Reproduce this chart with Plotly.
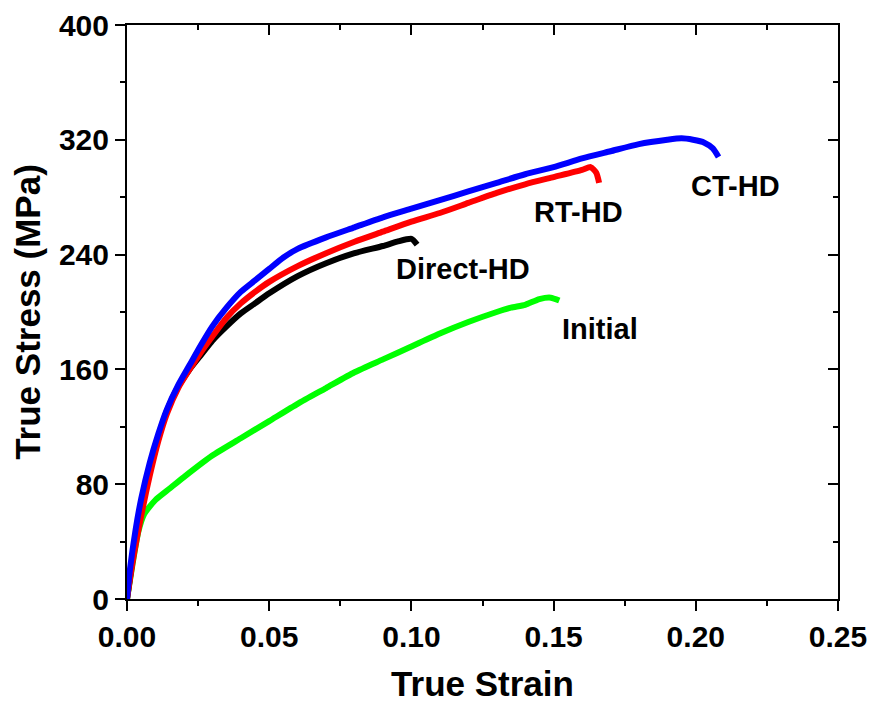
import plotly.graph_objects as go

# ---- data ----
ct_x = [0, 0.001, 0.003, 0.005, 0.008, 0.011, 0.014, 0.018, 0.022, 0.026, 0.03, 0.035, 0.04, 0.045,
        0.05, 0.055, 0.06, 0.07, 0.08, 0.09, 0.10, 0.11, 0.12, 0.13, 0.14, 0.15, 0.16, 0.17, 0.18,
        0.19, 0.195, 0.199, 0.203, 0.206, 0.208]
ct_y = [0, 20, 48, 70, 95, 115, 132, 149, 163, 177, 190, 203, 214, 222, 230, 238, 244, 252, 259,
        266, 272, 278, 284, 290, 296, 301, 307, 312, 317, 320, 321, 320, 318, 314, 308]

rt_x = [0, 0.002, 0.005, 0.008, 0.011, 0.014, 0.018, 0.022, 0.026, 0.03, 0.035, 0.04, 0.045, 0.05,
        0.06, 0.07, 0.08, 0.09, 0.10, 0.11, 0.12, 0.13, 0.14, 0.15, 0.16, 0.163, 0.165, 0.166]
rt_y = [0, 26, 58, 86, 110, 129, 147, 160, 172, 183, 196, 206, 214, 221, 232, 241, 249, 256, 263,
        269, 276, 283, 289, 294, 299, 301, 297, 290]

direct_x = [0, 0.002, 0.005, 0.008, 0.011, 0.014, 0.018, 0.022, 0.026, 0.03, 0.035, 0.04, 0.045,
            0.05, 0.06, 0.07, 0.08, 0.09, 0.095, 0.10, 0.102]
direct_y = [0, 28, 62, 90, 113, 131, 148, 160, 170, 180, 190, 199, 206, 213, 225, 234, 241, 246,
            249, 251, 247]

init_x = [0, 0.002, 0.004, 0.006, 0.01, 0.015, 0.02, 0.03, 0.04, 0.05, 0.06, 0.07, 0.08, 0.09,
          0.10, 0.11, 0.12, 0.13, 0.135, 0.14, 0.145, 0.149, 0.152]
init_y = [0, 25, 47, 59, 69, 77, 85, 100, 112, 124, 136, 147, 158, 167, 176, 185, 193, 200, 203,
          205, 209, 210, 208]

labels = ["CT-HD", "RT-HD", "Direct-HD", "Initial"]
label_x = [0.2141, 0.1586, 0.1181, 0.1663]
label_y = [288, 270, 230, 188]

x_range = [0, 0.25]
y_range = [0, 400]

FONT = "Liberation Sans, Arial, sans-serif"

fig = go.Figure()
series = [(init_x, init_y, "#00FF00"), (direct_x, direct_y, "#000000"),
          (rt_x, rt_y, "#FF0000"), (ct_x, ct_y, "#0000FF")]
for xs, ys, c in series:
    fig.add_trace(go.Scatter(x=xs, y=ys, mode="lines",
                             line=dict(color=c, width=6, shape="spline", smoothing=0.6),
                             showlegend=False, hoverinfo="skip"))

# dummy trace for mirrored (inward ticks) axes
fig.add_trace(go.Scatter(x=[None], y=[None], xaxis="x2", yaxis="y2", showlegend=False))

for t, lx, ly in zip(labels, label_x, label_y):
    fig.add_annotation(x=lx, y=ly, text=t, showarrow=False, xref="x", yref="y",
                       font=dict(family=FONT, size=29, color="black", weight="bold"))

common = dict(showline=True, linecolor="black", linewidth=2, showgrid=False, zeroline=False,
              tickcolor="black", tickwidth=2, automargin=False)

fig.update_layout(
    width=872, height=703,
    margin=dict(l=127, r=34, t=25, b=104),
    paper_bgcolor="white", plot_bgcolor="white",
    font=dict(family=FONT, color="black"),
    xaxis=dict(range=x_range, dtick=0.05, tick0=0, tickformat=".2f", ticks="outside", ticklen=10,
               minor=dict(dtick=0.025, ticks="outside", ticklen=5, tickwidth=2, tickcolor="black"),
               tickfont=dict(family=FONT, size=30, weight="bold"),
               title=dict(text="True Strain", font=dict(family=FONT, size=35, weight="bold"), standoff=24),
               **common),
    yaxis=dict(range=y_range, dtick=80, tick0=0, ticks="outside", ticklen=10,
               minor=dict(dtick=40, ticks="outside", ticklen=5, tickwidth=2, tickcolor="black"),
               tickfont=dict(family=FONT, size=30, weight="bold"),
               title=dict(text="True Stress (MPa)", font=dict(family=FONT, size=35, weight="bold"), standoff=8),
               **common),
    xaxis2=dict(overlaying="x", side="top", range=x_range, dtick=0.05, tick0=0, ticks="inside", ticklen=10,
                showticklabels=False,
                minor=dict(dtick=0.025, ticks="inside", ticklen=5, tickwidth=2, tickcolor="black"),
                **common),
    yaxis2=dict(overlaying="y", side="right", range=y_range, dtick=80, tick0=0, ticks="inside", ticklen=10,
                showticklabels=False,
                minor=dict(dtick=40, ticks="inside", ticklen=5, tickwidth=2, tickcolor="black"),
                **common),
)

fig.write_html("out.html")
